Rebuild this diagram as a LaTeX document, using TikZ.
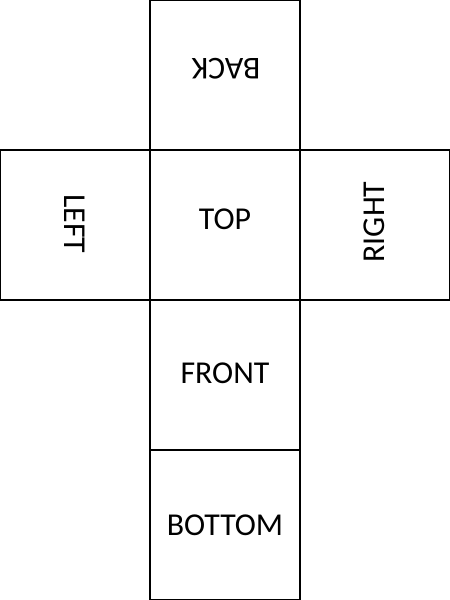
\documentclass[tikz,border=0pt]{standalone}
\usepackage{fontspec}
\setmainfont{Carlito}
\usepackage{tikz}

\begin{document}
\begin{tikzpicture}[scale=0.2]
    \tikzstyle{every node}+=[inner sep=0pt, font=\fontsize{30.2}{36}\selectfont]
    \tikzstyle{face}=[draw=black, line width=1pt]
    \useasboundingbox (0,0) rectangle (75,-100);
    \draw [face] (25,0) rectangle (50,-25);
    \draw [face] (0.1,-25) rectangle (25,-50);
    \draw [face] (50,-25) rectangle (74.9,-50);
    \draw [face] (25,-50) rectangle (50,-75);
    \draw [face] (25,-75) rectangle (50,-99.9);
    \draw [face, line width=2pt] (25,-25) rectangle (50,-50);
    \node (back) at (37.67,-11.5) [rotate=180] {BACK};
    \node (left) at (12.5,-37.33) [rotate=-90] {LEFT};
    \node (top) at (37.5,-36.5) {TOP};
    \node (right) at (62.33,-37) [rotate=90] {RIGHT};
    \node (front) at (37.5,-62.17) {FRONT};
    \node (bottom) at (37.5,-87.5) {BOTTOM};
\end{tikzpicture}
\end{document}
